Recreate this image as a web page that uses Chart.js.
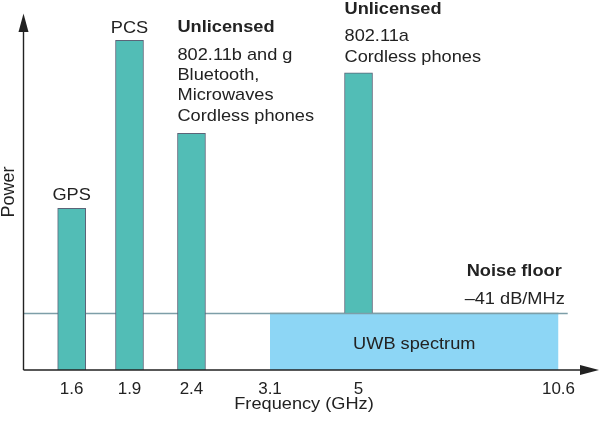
<!DOCTYPE html>
<html>
<head>
<meta charset="utf-8">
<script src="https://cdn.jsdelivr.net/npm/chart.js@4/dist/chart.umd.min.js"></script>
<style>
html, body { margin: 0; padding: 0; background: #fff; }
</style>
</head>
<body>
<canvas id="myChart" width="600" height="425"></canvas>
<script>
// frequency axis is schematic (not to scale), so each tick gets a slot on a 0-100 axis
const freqLabels = ["1.6", "1.9", "2.4", "3.1", "5", "10.6"];
const tickSlots = [8.45, 18.49, 29.25, 42.88, 58.25, 92.97];
const barFreqs = ["1.6", "1.9", "2.4", "5"];
const barPower = [45.4, 92.6, 66.5, 83.5];
const noiseFloor = 15.9;
const noiseEnd = 94.57;
const uwbBand = ["3.1", "10.6"];

const ink = "#222222";
const SX = 1.07;
const slot = f => tickSlots[freqLabels.indexOf(f)];

function txt(ctx, s, x, y, align, bold) {
    ctx.save();
    ctx.font = (bold ? "bold " : "") + "17px 'Liberation Sans', Arial, sans-serif";
    ctx.fillStyle = ink;
    ctx.textBaseline = "alphabetic";
    const w = ctx.measureText(s).width * SX;
    let left = x;
    if (align === "center") left = x - w / 2;
    if (align === "right") left = x - w;
    ctx.translate(left, y);
    ctx.scale(SX, 1);
    ctx.textAlign = "left";
    ctx.fillText(s, 0, 0);
    ctx.restore();
}

const decor = {
    id: "decor",
    afterDraw(chart) {
        const ctx = chart.ctx;
        const xs = chart.scales.x, ys = chart.scales.y;
        const ca = chart.chartArea;
        const y0 = ys.getPixelForValue(0);
        const ax = ca.left + 0.5;

        // axes with arrow heads
        ctx.save();
        ctx.strokeStyle = ink;
        ctx.fillStyle = ink;
        ctx.lineWidth = 1.4;
        ctx.beginPath();
        ctx.moveTo(ax, y0);
        ctx.lineTo(ax, ca.top + 16);
        ctx.moveTo(ax, y0);
        ctx.lineTo(ca.right - 16, y0);
        ctx.stroke();
        ctx.beginPath();
        ctx.moveTo(ax, ca.top - 0.5);
        ctx.lineTo(ax - 5, ca.top + 18);
        ctx.lineTo(ax + 5, ca.top + 18);
        ctx.closePath();
        ctx.fill();
        ctx.beginPath();
        ctx.moveTo(ca.right, y0);
        ctx.lineTo(ca.right - 19, y0 - 5);
        ctx.lineTo(ca.right - 19, y0 + 5);
        ctx.closePath();
        ctx.fill();
        ctx.restore();

        const half = 14;
        const top = i => ys.getPixelForValue(barPower[i]);
        const cx = i => xs.getPixelForValue(slot(barFreqs[i]));

        txt(ctx, "GPS", cx(0), top(0) - 8, "center");
        txt(ctx, "PCS", cx(1), top(1) - 7, "center");

        const l2 = cx(2) - half, t2 = top(2);
        txt(ctx, "Unlicensed", l2, t2 - 101, "left", true);
        txt(ctx, "802.11b and g", l2, t2 - 73, "left");
        txt(ctx, "Bluetooth,", l2, t2 - 53, "left");
        txt(ctx, "Microwaves", l2, t2 - 33, "left");
        txt(ctx, "Cordless phones", l2, t2 - 12, "left");

        const l3 = cx(3) - half, t3 = top(3);
        txt(ctx, "Unlicensed", l3, t3 - 59, "left", true);
        txt(ctx, "802.11a", l3, t3 - 32, "left");
        txt(ctx, "Cordless phones", l3, t3 - 11, "left");

        const ny = ys.getPixelForValue(noiseFloor);
        const nx = xs.getPixelForValue(noiseEnd);
        txt(ctx, "Noise floor", nx - 6, ny - 37, "right", true);
        txt(ctx, "\u201341 dB/MHz", nx - 3, ny - 9, "right");

        const ux = (xs.getPixelForValue(slot(uwbBand[0])) + xs.getPixelForValue(slot(uwbBand[1]))) / 2;
        txt(ctx, "UWB spectrum", ux, (ny + y0) / 2 + 7, "center");

        txt(ctx, "Frequency (GHz)", (ca.left + ca.right) / 2 - 7, 409, "center");
    }
};

new Chart("myChart", {
    type: "bar",
    data: {
        datasets: [
            {
                type: "line",
                data: [{ x: slot(uwbBand[0]), y: noiseFloor }, { x: slot(uwbBand[1]), y: noiseFloor }],
                borderColor: "#7d9ea8",
                borderWidth: 1.5,
                backgroundColor: "#8dd6f5",
                fill: "start",
                pointRadius: 0,
                order: 1
            },
            {
                type: "bar",
                data: barFreqs.map((f, i) => ({ x: slot(f), y: barPower[i] })),
                backgroundColor: "#52bdb6",
                borderColor: "#5c6478",
                borderWidth: 1,
                barThickness: 28,
                order: 2
            },
            {
                type: "line",
                data: [{ x: 0, y: noiseFloor }, { x: noiseEnd, y: noiseFloor }],
                borderColor: "#7d9ea8",
                borderWidth: 1.5,
                pointRadius: 0,
                fill: false,
                order: 3
            }
        ]
    },
    options: {
        responsive: false,
        animation: false,
        layout: { padding: { top: 14, right: 1, left: 0, bottom: 0 } },
        plugins: {
            legend: { display: false },
            tooltip: { enabled: false }
        },
        scales: {
            x: {
                type: "linear",
                min: 0,
                max: 100,
                offset: false,
                grid: { display: false, drawTicks: false, offset: false },
                border: { display: false },
                afterBuildTicks: s => { s.ticks = tickSlots.map(v => ({ value: v })); },
                afterFit: s => { s.height = 55; },
                ticks: {
                    autoSkip: false,
                    maxRotation: 0,
                    padding: 9,
                    color: ink,
                    font: { family: "'Liberation Sans', Arial, sans-serif", size: 17 },
                    callback: v => freqLabels[tickSlots.indexOf(v)]
                }
            },
            y: {
                min: 0,
                max: 100,
                grid: { display: false },
                border: { display: false },
                ticks: { display: false },
                afterFit: s => { s.width = 23; },
                title: {
                    display: true,
                    text: "Power",
                    color: ink,
                    padding: 0,
                    font: { family: "'Liberation Sans', Arial, sans-serif", size: 18, lineHeight: 0.95 }
                }
            }
        }
    },
    plugins: [decor]
});
</script>
</body>
</html>
